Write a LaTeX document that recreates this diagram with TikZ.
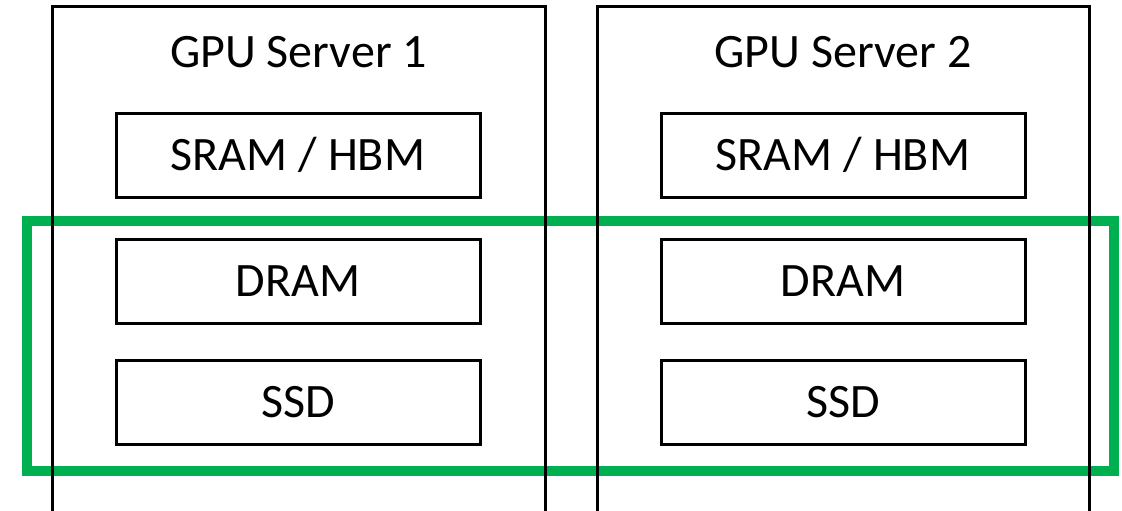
\documentclass[tikz,border=0pt]{standalone}
\usepackage{fontspec}
\setmainfont{Carlito}
\definecolor{groupgreen}{RGB}{0,176,80}
\begin{document}
\begin{tikzpicture}[x=1pt,y=-1pt,
  server/.style={draw=black,line width=3pt},
  membox/.style={draw=black,line width=3pt,minimum width=364pt,minimum height=84pt,inner sep=0pt,font=\fontsize{48}{52}\selectfont},
  title/.style={font=\fontsize{48}{52}\selectfont,inner sep=0pt},
  group/.style={draw=groupgreen,line width=10.5pt}]
\useasboundingbox (0,0) rectangle (1122,511);
\fill[white] (0,0) rectangle (1122,511);
% green grouping rectangle (behind)
\draw[group] (27,221) rectangle (1114,471);
% server frames
\draw[server] (52,515) -- (52,7) -- (545,7) -- (545,515);
\draw[server] (597,515) -- (597,7) -- (1089,7) -- (1089,515);
\node[title] (t1) at (298.5,52) {GPU Server 1};
\node[title] (t2) at (843,52) {GPU Server 2};
\node[membox] (s1) at (298,155) {\raisebox{-2pt}{SRAM / HBM}};
\node[membox] (d1) at (298,281) {\raisebox{-2pt}{DRAM}};
\node[membox] (f1) at (298,402) {\raisebox{-2pt}{SSD}};
\node[membox] (s2) at (843,155) {\raisebox{-2pt}{SRAM / HBM}};
\node[membox] (d2) at (843,281) {\raisebox{-2pt}{DRAM}};
\node[membox] (f2) at (843,402) {\raisebox{-2pt}{SSD}};
\end{tikzpicture}
\end{document}
